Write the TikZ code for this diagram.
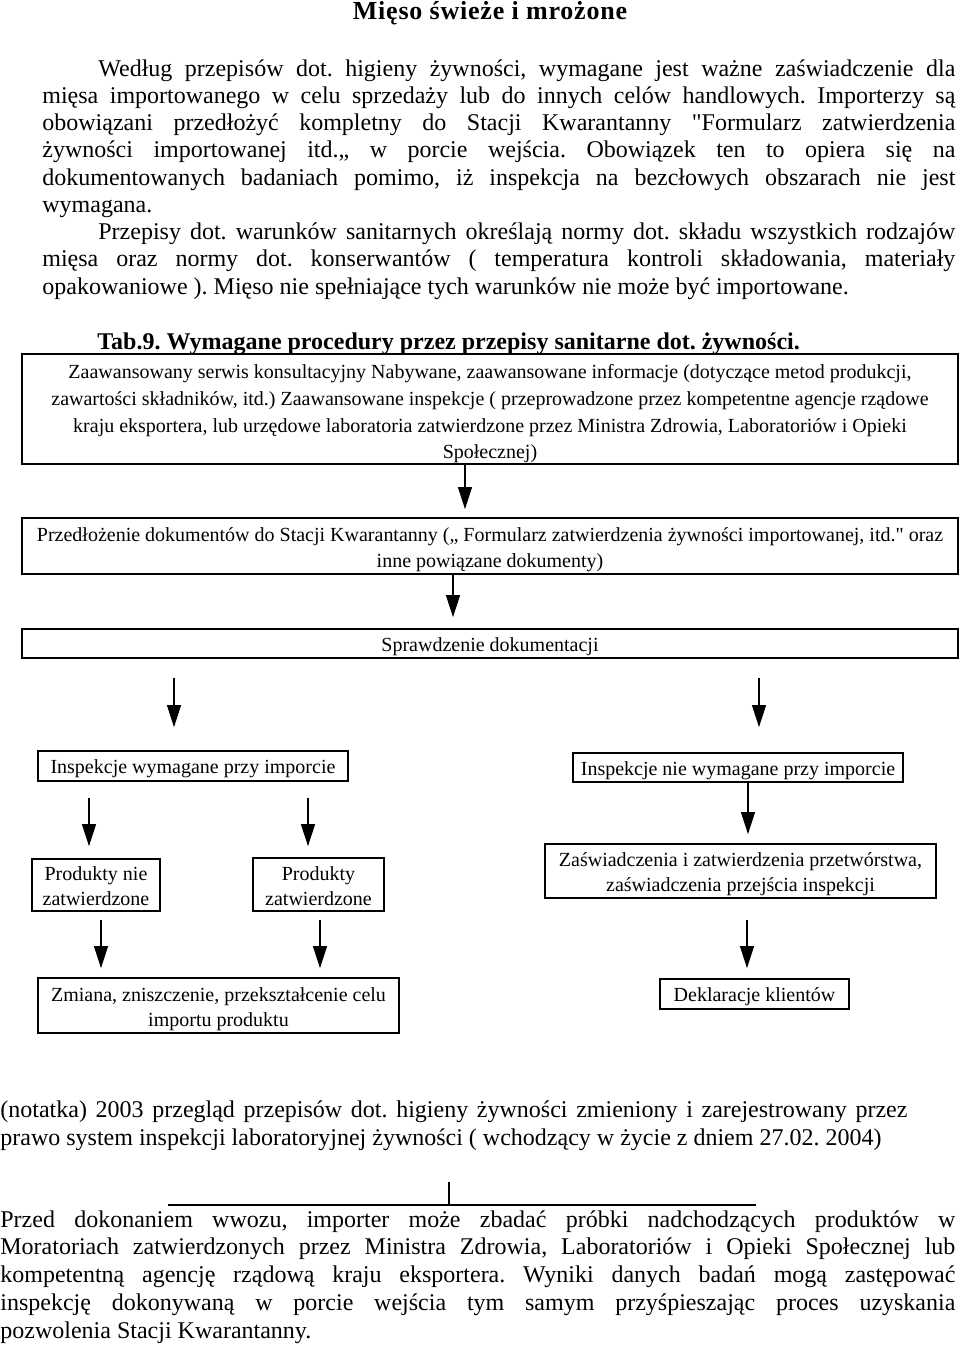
\documentclass[tikz,border=0pt]{standalone}
\usepackage{fontspec}
\setmainfont{Liberation Serif}[Ligatures=TeXOff]
\newfontfamily\titlefont{Liberation Serif}[Ligatures=TeXOff,LetterSpace=3]
\usetikzlibrary{arrows.meta}
\frenchspacing
\newcommand\topstrut[1]{\rule{0pt}{#1}}
\begin{document}
\begin{tikzpicture}[x=0.5pt,y=-0.5pt,
  box/.style={draw, line width=0.9pt, inner sep=0pt, align=center, font=\fontsize{10}{12.4}\selectfont},
  one/.style={text height=7.5pt, text depth=0pt},
  arr/.style={line width=0.6pt, -{Triangle[width=7pt,length=11pt]}},
  txt/.style={anchor=base west, inner sep=0pt, font=\fontsize{12}{13.65}\selectfont},
  rule/.style={line width=0.8pt}]
\useasboundingbox (0,0) rectangle (960,1346);
\fill[white] (0,0) rectangle (960,1346);

% title
\node[anchor=base, inner sep=0pt, font=\titlefont\bfseries\fontsize{13}{15}\selectfont] (title) at (490,19) {Mięso świeże i mrożone};

% paragraph 1 and 2
\node[txt] (p1) at (98,76) {\makebox[428.5pt][s]{Według przepisów dot. higieny żywności, wymagane jest ważne zaświadczenie dla}};
\node[txt] (p2) at (42,103.25) {\makebox[456.5pt][s]{mięsa importowanego w celu sprzedaży lub do innych celów handlowych. Importerzy są}};
\node[txt] (p3) at (42,130.5) {\makebox[456.5pt][s]{obowiązani przedłożyć kompletny do Stacji Kwarantanny "Formularz zatwierdzenia}};
\node[txt] (p4) at (42,157.75) {\makebox[456.5pt][s]{żywności importowanej itd.„ w porcie wejścia. Obowiązek ten to opiera się na}};
\node[txt] (p5) at (42,185) {\makebox[456.5pt][s]{dokumentowanych badaniach pomimo, iż inspekcja na bezcłowych obszarach nie jest}};
\node[txt] (p6) at (42,212.25) {wymagana.};
\node[txt] (q1) at (98,239.5) {\makebox[428.5pt][s]{Przepisy dot. warunków sanitarnych określają normy dot. składu wszystkich rodzajów}};
\node[txt] (q2) at (42,266.75) {\makebox[456.5pt][s]{mięsa oraz normy dot. konserwantów ( temperatura kontroli składowania, materiały}};
\node[txt] (q3) at (42,294) {opakowaniowe ). Mięso nie spełniające tych warunków nie może być importowane.};

% table title
\node[txt, font=\bfseries\fontsize{12}{14}\selectfont] (tab) at (97,349) {Tab.9. Wymagane procedury przez przepisy sanitarne dot. żywności.};

% boxes
\node[box, minimum width=468pt, minimum height=55pt, font=\fontsize{10}{13.35}\selectfont] (b1) at (490,409)
  {\topstrut{11.9pt}Zaawansowany serwis konsultacyjny Nabywane, zaawansowane informacje (dotyczące metod produkcji,\\
   zawartości składników, itd.) Zaawansowane inspekcje ( przeprowadzone przez kompetentne agencje rządowe\\
   kraju eksportera, lub urzędowe laboratoria zatwierdzone przez Ministra Zdrowia, Laboratoriów i Opieki\\
   Społecznej)};
\node[box, minimum width=468pt, minimum height=28pt, font=\fontsize{10}{13}\selectfont] (b2) at (490,546)
  {\topstrut{10.9pt}Przedłożenie dokumentów do Stacji Kwarantanny („ Formularz zatwierdzenia żywności importowanej, itd." oraz\\
   inne powiązane dokumenty)};
\node[box, one, minimum width=468pt, minimum height=14.5pt] (b3) at (490,643.5) {Sprawdzenie dokumentacji};
\node[box, one, minimum width=155pt, minimum height=15pt] (b4l) at (193,766) {Inspekcje wymagane przy imporcie};
\node[box, one, minimum width=165pt, minimum height=14.5pt] (b4r) at (738,767.5) {Inspekcje nie wymagane przy imporcie};
\node[box, minimum width=64pt, minimum height=26pt] (b5a) at (96,885) {\topstrut{7.8pt}Produkty nie\\zatwierdzone};
\node[box, minimum width=65.5pt, minimum height=26.5pt] (b5b) at (318.5,884.5) {\topstrut{8.8pt}Produkty\\zatwierdzone};
\node[box, minimum width=195.5pt, minimum height=27pt] (b5c) at (740.5,871) {\topstrut{9.9pt}Zaświadczenia i zatwierdzenia przetwórstwa,\\zaświadczenia przejścia inspekcji};
\node[box, minimum width=180.5pt, minimum height=27.5pt] (b6a) at (218.5,1005.5) {\topstrut{10.9pt}Zmiana, zniszczenie, przekształcenie celu\\importu produktu};
\node[box, one, minimum width=94.5pt, minimum height=15pt] (b6b) at (754.5,994) {Deklaracje klientów};

% free arrow starts
\coordinate (s3l) at (174,678);
\coordinate (s3r) at (759,678);
\coordinate (s4a) at (89,798);
\coordinate (s4b) at (308,798);
\coordinate (s5a) at (101,920);
\coordinate (s5b) at (320,920);
\coordinate (s5c) at (747,920);

% arrows
\draw[arr, shorten >=4pt] ([xshift=-12.5pt]b1.south) -- ([xshift=-12.5pt]b2.north);
\draw[arr, shorten >=5.5pt] ([xshift=-18.5pt]b2.south) -- ([xshift=-18.5pt]b3.north);
\draw[arr, shorten >=11.5pt] (s3l) -- (s3l |- b4l.north);
\draw[arr, shorten >=12.5pt] (s3r) -- (s3r |- b4r.north);
\draw[arr, shorten >=6pt] (s4a) -- (s4a |- b5a.north);
\draw[arr, shorten >=5.5pt] (s4b) -- (s4b |- b5b.north);
\draw[arr, shorten >=4.5pt] ([xshift=5pt]b4r.south) -- ([xshift=5pt]b4r.south |- b5c.north);
\draw[arr, shorten >=4.5pt] (s5a) -- (s5a |- b6a.north);
\draw[arr, shorten >=4.5pt] (s5b) -- (s5b |- b6a.north);
\draw[arr, shorten >=5pt] (s5c) -- (s5c |- b6b.north);

% note
\node[txt] (n1) at (0,1117) {\makebox[453.5pt][s]{(notatka) 2003 przegląd przepisów dot. higieny żywności zmieniony i zarejestrowany przez}};
\node[txt] (n2) at (0,1145) {prawo system inspekcji laboratoryjnej żywności ( wchodzący w życie z dniem 27.02. 2004)};

% rule
\coordinate (rl) at (168,1205);
\coordinate (rr) at (756,1205);
\coordinate (rt) at (449,1182);
\draw[rule] (rl) -- (rr);
\draw[rule] (rt) -- (rt |- rl);

% bottom paragraph
\node[txt] (r1) at (0,1227) {\makebox[477.5pt][s]{Przed dokonaniem wwozu, importer może zbadać próbki nadchodzących produktów w}};
\node[txt] (r2) at (0,1254.8) {\makebox[477.5pt][s]{Moratoriach zatwierdzonych przez Ministra Zdrowia, Laboratoriów i Opieki Społecznej lub}};
\node[txt] (r3) at (0,1282.6) {\makebox[477.5pt][s]{kompetentną agencję rządową kraju eksportera. Wyniki danych badań mogą zastępować}};
\node[txt] (r4) at (0,1310.4) {\makebox[477.5pt][s]{inspekcję dokonywaną w porcie wejścia tym samym przyśpieszając proces uzyskania}};
\node[txt] (r5) at (0,1338.2) {pozwolenia Stacji Kwarantanny.};
\end{tikzpicture}
\end{document}
